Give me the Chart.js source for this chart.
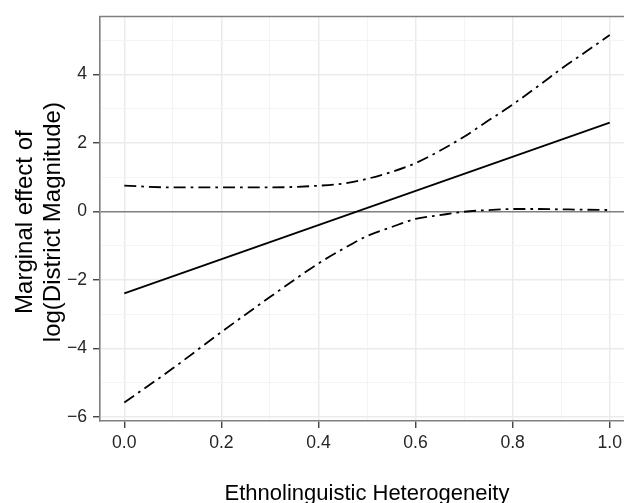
<!DOCTYPE html>
<html>
<head>
<meta charset="utf-8">
<script src="https://cdn.jsdelivr.net/npm/chart.js@4/dist/chart.umd.min.js"></script>
<style>
  html, body { margin: 0; padding: 0; overflow: hidden; background: #ffffff; }
  #wrap { width: 624px; height: 503px; overflow: hidden; }
  canvas { display: block; }
</style>
</head>
<body>
<div id="wrap"><canvas id="c" width="645" height="503"></canvas></div>
<script>
// ---- data ----
const heterogeneity = [0, 0.1, 0.2, 0.3, 0.4, 0.45, 0.5, 0.55, 0.6, 0.65, 0.7, 0.75, 0.8, 0.85, 0.9, 0.95, 1.0];
const upperBound = [0.75, 0.70, 0.70, 0.70, 0.75, 0.81, 0.95, 1.15, 1.41, 1.77, 2.18, 2.65, 3.12, 3.63, 4.16, 4.65, 5.15];
const lowerBound = [-5.58, -4.58, -3.52, -2.50, -1.52, -1.10, -0.72, -0.46, -0.22, -0.11, -0.01, 0.04, 0.07, 0.07, 0.06, 0.05, 0.04];
const effectX = [0, 1];
const effectY = [-2.39, 2.59];
const xTickValues = [0, 0.1, 0.2, 0.3, 0.4, 0.5, 0.6, 0.7, 0.8, 0.9, 1.0];
const xTickLabels = ["0.0", "", "0.2", "", "0.4", "", "0.6", "", "0.8", "", "1.0"];
const yTickValues = [-6, -5, -4, -3, -2, -1, 0, 1, 2, 3, 4, 5];
const yTickLabels = ["\u22126", "", "\u22124", "", "\u22122", "", "0", "", "2", "", "4", ""];
const xTitle = "Ethnolinguistic Heterogeneity";
const yTitle = ["Marginal effect of ", "log(District Magnitude) "];

const toPts = (xs, ys) => xs.map((x, i) => ({ x: x, y: ys[i] }));

const FONT = "'Liberation Sans', Arial, Helvetica, sans-serif";
const DASH = [12, 5, 2.7, 5];

const topBorder = {
  id: 'topBorder',
  beforeDatasetsDraw(chart) {
    const { ctx, chartArea } = chart;
    ctx.save();
    ctx.strokeStyle = '#7f7f7f';
    ctx.lineWidth = 1.6;
    ctx.beginPath();
    ctx.moveTo(chartArea.left - 0.8, chartArea.top);
    ctx.lineTo(chartArea.right, chartArea.top);
    ctx.stroke();
    ctx.restore();
  }
};

new Chart(document.getElementById('c'), {
  type: 'line',
  data: {
    datasets: [
      {
        data: toPts(heterogeneity, upperBound),
        borderColor: '#000000', borderWidth: 1.8, borderDash: DASH,
        pointRadius: 0, cubicInterpolationMode: 'monotone', fill: false
      },
      {
        data: toPts(heterogeneity, lowerBound),
        borderColor: '#000000', borderWidth: 1.8, borderDash: DASH,
        pointRadius: 0, cubicInterpolationMode: 'monotone', fill: false
      },
      {
        data: toPts(effectX, effectY),
        borderColor: '#000000', borderWidth: 1.8,
        pointRadius: 0, fill: false
      }
    ]
  },
  options: {
    responsive: false,
    animation: false,
    devicePixelRatio: 1,
    layout: { padding: { top: 14, right: 11, left: 0, bottom: 0 } },
    plugins: { legend: { display: false }, tooltip: { enabled: false } },
    scales: {
      x: {
        type: 'linear',
        min: -0.05, max: 1.05,
        afterBuildTicks: (s) => { s.ticks = xTickValues.map(v => ({ value: v })); },
        afterFit: (s) => { s.height = 82; },
        ticks: {
          autoSkip: false, maxRotation: 0, padding: 5,
          color: '#262626',
          font: { family: FONT, size: 17.6 },
          callback: (v, i) => xTickLabels[i]
        },
        grid: {
          color: (c) => (xTickLabels[c.index] ? '#ebebeb' : '#f4f4f4'),
          lineWidth: (c) => (xTickLabels[c.index] ? 1.5 : 1),
          tickColor: (c) => (xTickLabels[c.index] ? '#333333' : 'rgba(0,0,0,0)'),
          tickLength: 7, tickWidth: 1.3
        },
        border: { display: true, color: '#7f7f7f', width: 1.6 },
        title: {
          display: true, text: xTitle, color: '#000000',
          font: { family: FONT, size: 22, lineHeight: 0.8 },
          padding: { top: 0, bottom: 0 }
        }
      },
      y: {
        type: 'linear',
        min: -6.117, max: 5.687,
        afterBuildTicks: (s) => { s.ticks = yTickValues.map(v => ({ value: v })); },
        afterFit: (s) => { s.width = 100; },
        ticks: {
          autoSkip: false, padding: 6,
          color: '#262626',
          font: { family: FONT, size: 17.6 },
          callback: (v, i) => yTickLabels[i]
        },
        grid: {
          color: (c) => (c.tick && c.tick.value === 0 ? '#7f7f7f' : (yTickLabels[c.index] ? '#ebebeb' : '#f4f4f4')),
          lineWidth: (c) => (c.tick && c.tick.value === 0 ? 1.6 : (yTickLabels[c.index] ? 1.5 : 1)),
          tickColor: (c) => (yTickLabels[c.index] ? '#333333' : 'rgba(0,0,0,0)'),
          tickLength: 7, tickWidth: 1.3
        },
        border: { display: true, color: '#7f7f7f', width: 1.6 },
        title: {
          display: true, text: yTitle, color: '#000000',
          font: { family: FONT, size: 24, lineHeight: 1.15 },
          padding: { top: 12, bottom: 0 }
        }
      }
    }
  },
  plugins: [topBorder]
});
</script>
</body>
</html>
